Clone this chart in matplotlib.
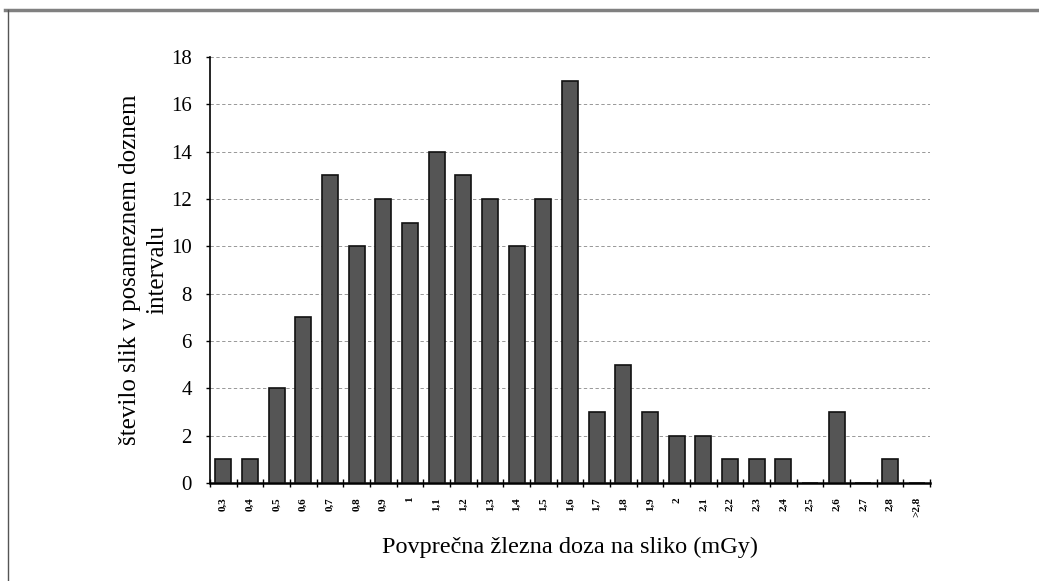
import numpy as np
import matplotlib.pyplot as plt
from matplotlib.lines import Line2D

# podatki
kategorije = ["0,3", "0,4", "0,5", "0,6", "0,7", "0,8", "0,9", "1", "1,1", "1,2",
              "1,3", "1,4", "1,5", "1,6", "1,7", "1,8", "1,9", "2", "2,1", "2,2",
              "2,3", "2,4", "2,5", "2,6", "2,7", "2,8", ">2,8"]
stevilo = [1, 1, 4, 7, 13, 10, 12, 11, 14, 13,
           12, 10, 12, 17, 3, 5, 3, 2, 2, 1,
           1, 1, 0, 3, 0, 1, 0]

plt.rcParams['font.family'] = ['Liberation Serif', 'DejaVu Serif']

fig = plt.figure(figsize=(10.39, 5.81), dpi=100)
ax = fig.add_axes([210/1039, 1-483/581, 720/1039, 426/581])

x = np.arange(len(kategorije))
ax.bar(x, stevilo, width=0.6, color='#555555', edgecolor='#111111', linewidth=1.2, zorder=3)

ax.set_xlim(-0.5, len(kategorije) - 0.5)
ax.set_ylim(0, 18)
ax.set_yticks(range(0, 19, 2))
ax.tick_params(axis='y', labelsize=15, length=3, width=1, pad=10)

ax.set_xticks(x)
ax.set_xticklabels(kategorije, rotation=90, fontsize=8, fontweight='bold')
ax.tick_params(axis='x', length=0, pad=10)
ax.set_xticks(np.arange(-0.5, len(kategorije)), minor=True)
ax.tick_params(axis='x', which='minor', length=6, direction='inout', width=1)

ax.grid(axis='y', color='#888888', linestyle=(0, (4, 3)), linewidth=0.6, zorder=0)
for s in ['top', 'right']:
    ax.spines[s].set_visible(False)
ax.spines['left'].set_linewidth(1.2)
ax.spines['bottom'].set_linewidth(1.8)

ax.set_ylabel("število slik v posameznem doznem\nintervalu", fontsize=18, labelpad=2, linespacing=1.3)
ax.set_xlabel("Povprečna žlezna doza na sliko (mGy)", fontsize=17.5, labelpad=14)

# okvir
fig.add_artist(Line2D([5/1039, 1037/1039], [1-10/581, 1-10/581], color='#808080', linewidth=2.5))
fig.add_artist(Line2D([8/1039, 8/1039], [1-10/581, 0], color='#555555', linewidth=1))

fig.savefig("out.png", dpi=100)
